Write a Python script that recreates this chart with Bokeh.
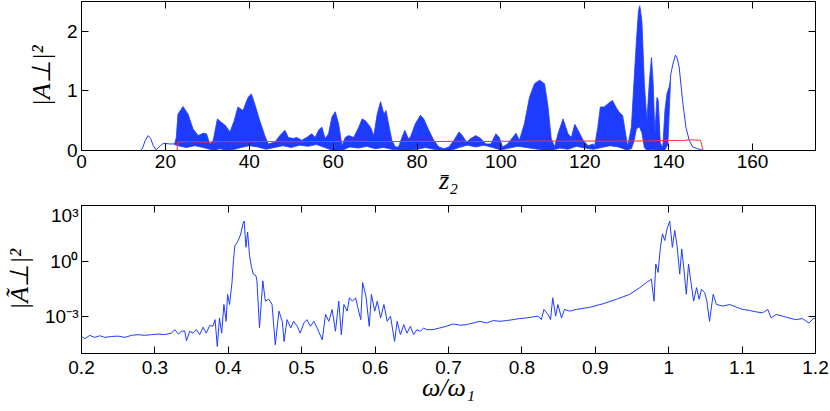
from bokeh.plotting import figure
from bokeh.models import FixedTicker, LinearAxis, LogAxis, Range1d
from bokeh.layouts import column
from bokeh.embed import file_html
from bokeh.resources import INLINE

BLUE = "#1e3cff"
RED = "#ff3030"

# ---------------- top panel data (z, |A|^2) ----------------
lead_z = [0, 14.0, 14.5, 15.2, 15.9, 16.5, 17.1, 17.8, 18.8, 19.5, 21.0, 22.2]
lead_v = [0, 0.0, 0.03, 0.17, 0.25, 0.20, 0.08, 0.01, 0.08, 0.12, 0.11, 0.11]

band_up_z = [22.2, 22.6, 23.0, 24.2, 25.4, 26.6, 27.8, 29.0, 29.8, 30.6, 31.4, 32.4, 33.4, 34.3,
             35.4, 36.4, 37.3, 38.5, 39.7, 40.5, 41.3, 42.5, 43.7, 44.5, 46.1, 47.3, 48.5, 49.3,
             50.5, 51.3, 52.5, 53.7, 54.9, 55.7, 56.6, 57.3, 58.1, 58.9, 59.7, 60.5, 61.3, 62.1,
             62.9, 63.7, 64.9, 66.1, 66.9, 67.7, 68.9, 69.7, 70.5, 71.3, 72.1, 72.6, 73.2, 74.0,
             74.8, 75.6, 76.4, 77.1, 77.9, 78.4, 79.6, 80.8, 81.6, 82.8, 84.0, 85.2, 86.4, 87.6,
             88.8, 90.0, 90.8, 91.8, 92.8, 94.0, 95.2, 96.4, 97.6, 98.8, 99.6, 100.4, 101.6, 102.8,
             103.6, 104.4, 105.6, 106.8, 108.0, 109.2, 110.4, 111.2, 112.0, 112.8, 113.6, 114.8,
             116.0, 116.8, 117.6, 118.4, 119.6, 120.8, 122.0, 122.3, 123.1, 123.7, 124.6, 125.8,
             126.6, 127.4, 128.2, 129.0, 129.6, 130.2, 131.1, 131.7, 132.3, 132.8, 133.1, 133.6,
             134.2, 134.8, 135.4, 135.9, 136.3, 136.7, 137.2, 137.5, 138.0, 138.6, 139.1, 139.6,
             140.1, 140.4]
band_up_v = [0.11, 0.22, 0.61, 0.74, 0.61, 0.36, 0.25, 0.29, 0.28, 0.11, 0.17, 0.53, 0.47, 0.42,
             0.31, 0.50, 0.73, 0.67, 0.89, 0.95, 0.78, 0.50, 0.25, 0.11, 0.14, 0.25, 0.34, 0.22,
             0.20, 0.22, 0.17, 0.22, 0.28, 0.22, 0.35, 0.39, 0.20, 0.28, 0.56, 0.65, 0.45, 0.08,
             0.22, 0.25, 0.22, 0.39, 0.53, 0.50, 0.39, 0.25, 0.61, 0.82, 0.61, 0.67, 0.45, 0.17,
             0.06, 0.06, 0.22, 0.34, 0.20, 0.22, 0.45, 0.59, 0.53, 0.34, 0.17, 0.06, 0.03, 0.06,
             0.17, 0.31, 0.25, 0.14, 0.20, 0.25, 0.20, 0.11, 0.11, 0.28, 0.22, 0.06, 0.11, 0.22,
             0.29, 0.17, 0.45, 0.89, 1.12, 1.18, 1.12, 0.75, 0.20, 0.06, 0.28, 0.53,
             0.28, 0.22, 0.44, 0.34, 0.17, 0.08, 0.11, 0.06, 0.39, 0.73, 0.73, 0.80,
             0.84, 0.73, 0.64, 0.59, 0.34, 0.06, 0.39, 1.12, 1.84, 2.35, 2.43, 2.18,
             1.12, 0.50, 1.17, 1.56, 1.12, 0.28, 0.89, 0.84, 0.12, 0.06, 0.67, 0.96,
             1.06, 1.18]

band_lo_z = [22.2, 23.0, 25.0, 27.0, 29.0, 30.6, 31.5, 33.0, 35.0, 36.5, 38.0, 40.0, 42.0, 44.0,
             46.0, 48.0, 50.0, 52.0, 54.0, 56.0, 58.0, 60.0, 62.0, 64.0, 66.0, 68.0, 70.0, 72.0,
             74.0, 76.0, 78.0, 80.0, 82.0, 84.0, 86.0, 88.0, 90.0, 92.0, 94.0, 96.0, 98.0, 100.0,
             102.0, 104.0, 106.0, 108.0, 110.0, 112.0, 114.0, 116.0, 118.0, 120.0, 122.0, 124.0,
             126.0, 128.0, 130.0, 131.1, 131.7, 132.3, 133.0, 133.6, 134.2, 134.8, 136.0, 137.0,
             138.0, 139.0, 139.8, 140.1, 140.4]
band_lo_v = [0.10, 0.08, 0.05, 0.08, 0.05, 0.02, 0.0, 0.03, 0.0, 0.02, 0.05, 0.08, 0.06, 0.02,
             0.05, 0.08, 0.05, 0.09, 0.07, 0.10, 0.05, 0.0, 0.0, 0.06, 0.04, 0.07, 0.03, 0.05,
             0.02, 0.0, 0.0, 0.02, 0.05, 0.02, 0.0, 0.0, 0.05, 0.09, 0.06, 0.09, 0.05, 0.01,
             0.04, 0.07, 0.05, 0.03, 0.01, 0.0, 0.04, 0.02, 0.07, 0.04, 0.02, 0.05,
             0.08, 0.06, 0.01, 0.03, 0.15, 0.36, 0.40, 0.30, 0.05, 0.0, 0.02, 0.0,
             0.0, 0.0, 0.10, 0.60, 1.12]

tail_z = [140.4, 140.5, 141.0, 141.6, 142.0, 142.5, 143.3, 144.1, 144.9, 145.7, 146.9, 147.7, 148.5, 175]
tail_v = [1.18, 1.28, 1.45, 1.60, 1.55, 1.40, 0.84, 0.39, 0.17, 0.06, 0.03, 0.01, 0.0, 0.0]

red_z = [0, 22.8, 22.9, 26, 30, 34, 38, 42, 46, 50, 55, 60, 65, 70, 75, 80, 85, 90, 95, 100,
         105, 110, 115, 120, 125, 130, 135, 140, 143, 145, 147.6, 148.2, 175]
red_v = [0, 0, 0.14, 0.15, 0.14, 0.15, 0.145, 0.15, 0.15, 0.145, 0.15, 0.15, 0.155, 0.15, 0.15,
         0.155, 0.15, 0.155, 0.15, 0.155, 0.155, 0.16, 0.155, 0.16, 0.155, 0.16, 0.16, 0.17,
         0.165, 0.18, 0.17, 0.0, 0.0]

top_xticks = [0, 20, 40, 60, 80, 100, 120, 140, 160]
top_yticks = [0, 1, 2]

# ---------------- bottom panel data (omega/omega1, log10 |A~|^2) ----------------
w = [0.200, 0.2045, 0.2113, 0.218, 0.2249, 0.2317, 0.2408, 0.2499, 0.259, 0.268, 0.277, 0.286,
     0.2953, 0.3043, 0.313, 0.3225, 0.327, 0.332, 0.336, 0.3406, 0.343, 0.3475, 0.352, 0.3565,
     0.361, 0.3656, 0.370, 0.3747, 0.379, 0.382, 0.385, 0.388, 0.391, 0.394, 0.397, 0.399,
     0.4017, 0.405, 0.407, 0.409, 0.412, 0.4145, 0.417, 0.420, 0.4217, 0.424, 0.4263, 0.429,
     0.4317, 0.434, 0.4377, 0.439, 0.4425, 0.447, 0.4505, 0.455, 0.4596, 0.464, 0.469, 0.4735,
     0.476, 0.480, 0.485, 0.489, 0.494, 0.498, 0.503, 0.507, 0.512, 0.5165, 0.521, 0.528,
     0.5325, 0.537, 0.5415, 0.546, 0.5505, 0.554, 0.5575, 0.562, 0.565, 0.569, 0.5735, 0.5765,
     0.5805, 0.583, 0.5875, 0.592, 0.595, 0.5995, 0.603, 0.6075, 0.612, 0.6165, 0.621, 0.6265,
     0.630, 0.6345, 0.639, 0.6435, 0.648, 0.6525, 0.657, 0.6616, 0.666, 0.670, 0.679, 0.688,
     0.697, 0.7065, 0.7155, 0.7246, 0.7337, 0.7428, 0.7518, 0.761, 0.770, 0.779, 0.788, 0.797,
     0.806, 0.8155, 0.822, 0.8265, 0.830, 0.8355, 0.839, 0.842, 0.846, 0.849, 0.854, 0.858,
     0.865, 0.874, 0.883, 0.892, 0.904, 0.9106, 0.9288, 0.947, 0.9605, 0.9696, 0.9764, 0.980,
     0.9824, 0.9855, 0.9887, 0.9915, 0.9946, 0.9978, 1.0014, 1.005, 1.0082, 1.0114, 1.015,
     1.0178, 1.0205, 1.024, 1.027, 1.031, 1.034, 1.038, 1.0415, 1.0447, 1.049, 1.052, 1.0556,
     1.0606, 1.065, 1.074, 1.083, 1.092, 1.101, 1.110, 1.119, 1.128, 1.135, 1.1396, 1.1464,
     1.155, 1.164, 1.173, 1.182, 1.191, 1.198, 1.200]
spec_log10 = [-4.08, -4.20, -4.02, -4.13, -4.04, -4.13, -4.08, -4.06, -4.13, -4.02, -3.98, -4.02,
              -3.98, -3.95, -3.98, -3.90, -3.71, -3.95, -3.80, -3.78, -4.31, -3.80, -3.90, -3.71,
              -3.98, -3.58, -3.90, -3.48, -3.53, -3.17, -4.62, -3.08, -3.90, -2.35, -3.26, -1.80,
              -2.35, -1.17, 0.02, 0.83, 1.00, 1.20, 1.47, 2.02, 2.16, 0.74, 1.56, 0.29,
              -0.35, -0.71, -0.80, -1.07, -3.60, -1.07, -2.17, -2.06, -2.35, -4.53, -2.71, -3.26,
              -4.35, -3.17, -3.62, -3.26, -3.53, -3.90, -3.35, -3.17, -3.53, -3.26, -3.62, -4.26,
              -2.89, -3.26, -2.62, -3.80, -2.17, -3.98, -2.35, -2.71, -1.99, -2.17, -1.99, -2.53,
              -3.17, -1.17, -1.89, -3.53, -1.80, -2.71, -2.17, -3.08, -2.35, -3.26, -2.98, -4.35,
              -3.26, -3.98, -3.44, -3.90, -3.53, -3.98, -3.71, -3.80, -3.62, -3.71, -3.71, -3.62,
              -3.53, -3.40, -3.47, -3.44, -3.35, -3.26, -3.35, -3.22, -3.26, -3.22, -3.17, -3.11,
              -3.08, -3.02, -2.98, -3.17, -2.62, -2.89, -3.17, -1.99, -2.98, -2.35, -3.08, -2.62,
              -2.71, -2.62, -2.56, -2.51, -2.38, -2.31, -2.07, -1.80, -1.44, -1.17, -0.98, -2.17,
              -0.16, -0.62, 0.74, 1.47, 1.11, 1.75, 2.16, 0.74, 1.65, 0.83, -0.71,
              0.65, -0.35, -1.80, -0.16, -1.35, -2.17, -1.44, -2.07, -1.53, -1.71, -2.17, -3.26,
              -1.80, -2.35, -2.44, -2.35, -2.49, -2.62, -2.67, -2.75, -2.80, -2.62, -3.08, -2.89,
              -2.98, -3.08, -3.17, -3.11, -3.35, -3.08, -3.15]
spec = [10.0 ** e for e in spec_log10]

bot_xticks = [0.2, 0.3, 0.4, 0.5, 0.6, 0.7, 0.8, 0.9, 1.0, 1.1, 1.2]
bot_xlabels = ["0.2", "0.3", "0.4", "0.5", "0.6", "0.7", "0.8", "0.9", "1", "1.1", "1.2"]
bot_yticks = [1e-3, 1.0, 1e3]
bot_ylabels = ["10\u207b\u00b3", "10\u2070", "10\u00b3"]

TICK_FONT = "Liberation Sans"
LABEL_FONT = "Liberation Serif"


def style_axis(ax, show_labels=True):
    ax.axis_line_color = "black"
    ax.axis_line_width = 1
    ax.major_tick_line_color = "black"
    ax.major_tick_line_width = 1
    ax.major_tick_in = 7
    ax.major_tick_out = 0
    ax.minor_tick_line_color = None
    ax.major_label_text_font = TICK_FONT
    if show_labels:
        ax.major_label_text_font_size = "19px"
        ax.major_label_text_color = "black"
    else:
        ax.major_label_text_font_size = "1px"
        ax.major_label_text_color = None
        ax.major_label_standoff = 0
    ax.axis_label_text_font = LABEL_FONT
    ax.axis_label_text_font_style = "italic"
    ax.axis_label_text_font_size = "26px"
    ax.axis_label_text_color = "black"


def base(fig):
    fig.xgrid.grid_line_color = None
    fig.ygrid.grid_line_color = None
    fig.outline_line_color = "black"
    fig.outline_line_width = 1
    fig.background_fill_color = "white"
    fig.border_fill_color = "white"


# ---------------- top figure ----------------
top = figure(width=830, height=204, x_range=Range1d(0, 175), y_range=Range1d(0, 2.5),
             output_backend="svg", toolbar_location=None,
             min_border_left=80, min_border_right=15, min_border_top=1, min_border_bottom=54)
base(top)
top.xaxis.ticker = FixedTicker(ticks=top_xticks)
top.yaxis.ticker = FixedTicker(ticks=top_yticks)
style_axis(top.xaxis[0])
style_axis(top.yaxis[0])
top.xaxis.major_label_standoff = 4
top.yaxis.major_label_standoff = 4
top.xaxis.axis_label = "z\u0304\u2082"
top.xaxis.axis_label_standoff = -5
top.yaxis.axis_label = "|A\u22a5|\u00b2"
top.yaxis.axis_label_standoff = 8
ax_t = LinearAxis(ticker=FixedTicker(ticks=top_xticks))
style_axis(ax_t, False)
top.add_layout(ax_t, "above")
ax_r = LinearAxis(ticker=FixedTicker(ticks=top_yticks))
style_axis(ax_r, False)
top.add_layout(ax_r, "right")

band_x = band_up_z + band_lo_z[::-1]
band_y = band_up_v + band_lo_v[::-1]
top.patch(band_x, band_y, fill_color=BLUE, line_color=BLUE, line_width=0.8)
top.line(lead_z, lead_v, line_color=BLUE, line_width=1)
top.line(tail_z, tail_v, line_color=BLUE, line_width=1)
top.line(red_z, red_v, line_color=RED, line_width=1)

# ---------------- bottom figure ----------------
bot = figure(width=830, height=207, x_range=Range1d(0.2, 1.2), y_range=Range1d(1e-5, 1e3),
             y_axis_type="log", output_backend="svg", toolbar_location=None,
             min_border_left=81, min_border_right=14, min_border_top=1, min_border_bottom=58)
base(bot)
bot.xaxis.ticker = FixedTicker(ticks=bot_xticks)
bot.xaxis.major_label_overrides = dict(zip(bot_xticks, bot_xlabels))
bot.yaxis.ticker = FixedTicker(ticks=bot_yticks)
bot.yaxis.major_label_overrides = dict(zip(bot_yticks, bot_ylabels))
style_axis(bot.xaxis[0])
style_axis(bot.yaxis[0])
bot.xaxis.major_label_standoff = 7
bot.yaxis.major_label_standoff = 3
bot.xaxis.axis_label = "\u03c9/\u03c9\u2081"
bot.xaxis.axis_label_standoff = -4
bot.yaxis.axis_label = "|\u00c3\u22a5|\u00b2"
bot.yaxis.axis_label_standoff = 8
bx_t = LinearAxis(ticker=FixedTicker(ticks=bot_xticks))
style_axis(bx_t, False)
bot.add_layout(bx_t, "above")
by_r = LogAxis(ticker=FixedTicker(ticks=bot_yticks))
style_axis(by_r, False)
bot.add_layout(by_r, "right")

bot.line(w, spec, line_color=BLUE, line_width=1)

layout = column(top, bot)
open("out.html", "w").write(file_html(layout, INLINE))
